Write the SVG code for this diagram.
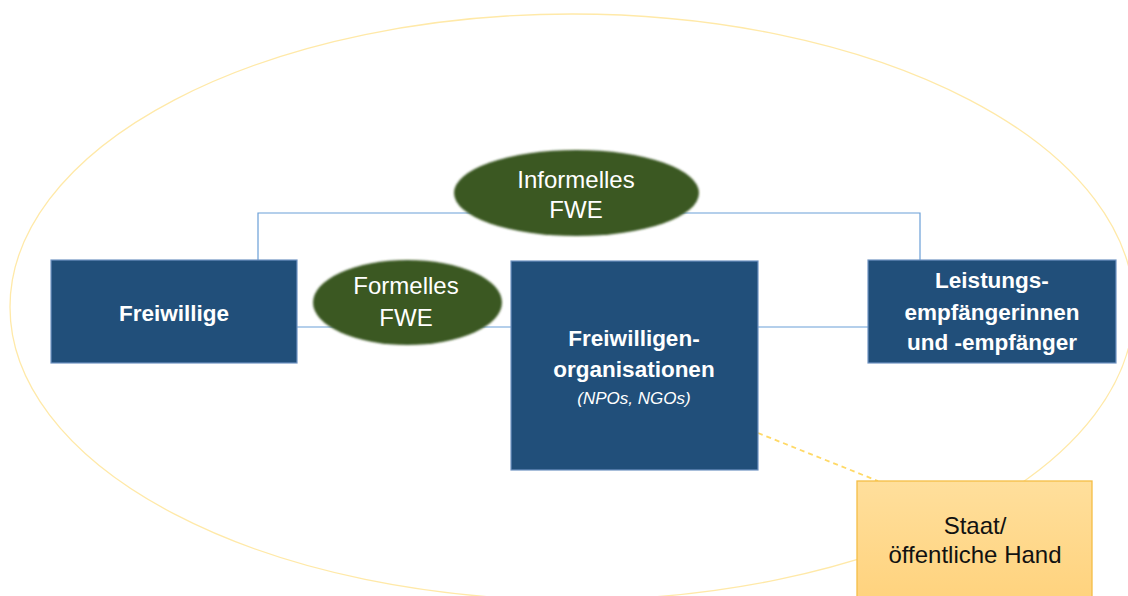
<svg xmlns="http://www.w3.org/2000/svg" width="1128" height="596" viewBox="0 0 1128 596">
  <defs>
    <linearGradient id="staatGrad" x1="0" y1="0" x2="0" y2="1">
      <stop offset="0" stop-color="#FFDF9C"/>
      <stop offset="1" stop-color="#FFD27C"/>
    </linearGradient>
    <filter id="soft" x="-5%" y="-5%" width="110%" height="110%">
      <feGaussianBlur stdDeviation="0.8"/>
    </filter>
  </defs>
  <style>
    .box { fill: #214F7A; stroke: #6F93C2; stroke-width: 1.2; }
    .oval { fill: #3A5823; }
    .conn { fill: none; stroke: #6A9FD8; stroke-width: 1.2; }
    .dash { fill: none; stroke: #FFD966; stroke-width: 1.8; stroke-dasharray: 5 4; }
    .wb { font-family: "Liberation Sans", Arial, sans-serif; font-weight: bold; font-size: 22.5px; fill: #FFFFFF; text-anchor: middle; }
    .wr { font-family: "Liberation Sans", Arial, sans-serif; font-size: 24px; fill: #FFFFFF; text-anchor: middle; }
    .wi { font-family: "Liberation Sans", Arial, sans-serif; font-style: italic; font-size: 17px; fill: #FFFFFF; text-anchor: middle; }
    .bk { font-family: "Liberation Sans", Arial, sans-serif; font-size: 24px; fill: #111111; text-anchor: middle; }
  </style>
  <rect x="0" y="0" width="1128" height="596" fill="#FFFFFF"/>

  <g id="umfeld">
    <ellipse cx="572" cy="307" rx="562" ry="293" fill="none" stroke="#FFE9A8" stroke-width="1.3"/>
  </g>

  <g id="connectors">
    <polyline class="conn" points="258,260 258,213 920,213 920,260"/>
    <line class="conn" x1="297" y1="327" x2="511" y2="327"/>
    <line class="conn" x1="758" y1="327" x2="868" y2="327"/>
    <line class="dash" x1="758" y1="433" x2="878" y2="481"/>
  </g>

  <g id="freiwillige">
    <rect class="box" x="51" y="260" width="246" height="103"/>
    <text class="wb" x="174" y="321">Freiwillige</text>
  </g>

  <g id="informelles-fwe">
    <ellipse class="oval" cx="576.5" cy="193" rx="122.5" ry="43" filter="url(#soft)"/>
    <text class="wr" x="576" y="188">Informelles</text>
    <text class="wr" x="576" y="218">FWE</text>
  </g>

  <g id="formelles-fwe">
    <ellipse class="oval" cx="407.5" cy="302.5" rx="94.5" ry="42.5" filter="url(#soft)"/>
    <text class="wr" x="406" y="294">Formelles</text>
    <text class="wr" x="406" y="326">FWE</text>
  </g>

  <g id="freiwilligenorganisationen">
    <rect class="box" x="511" y="261" width="247" height="209"/>
    <text class="wb" x="634" y="346">Freiwilligen-</text>
    <text class="wb" x="634" y="377">organisationen</text>
    <text class="wi" x="634" y="404">(NPOs, NGOs)</text>
  </g>

  <g id="leistungsempfaenger">
    <rect class="box" x="868" y="260" width="248" height="103"/>
    <text class="wb" x="992" y="288">Leistungs-</text>
    <text class="wb" x="992" y="320">empfängerinnen</text>
    <text class="wb" x="992" y="350">und -empfänger</text>
  </g>

  <g id="staat">
    <rect x="857" y="481" width="235" height="125" fill="url(#staatGrad)" stroke="#F5BD45" stroke-width="1.3"/>
    <text class="bk" x="975" y="534">Staat/</text>
    <text class="bk" x="975" y="563">öffentliche Hand</text>
  </g>
</svg>
